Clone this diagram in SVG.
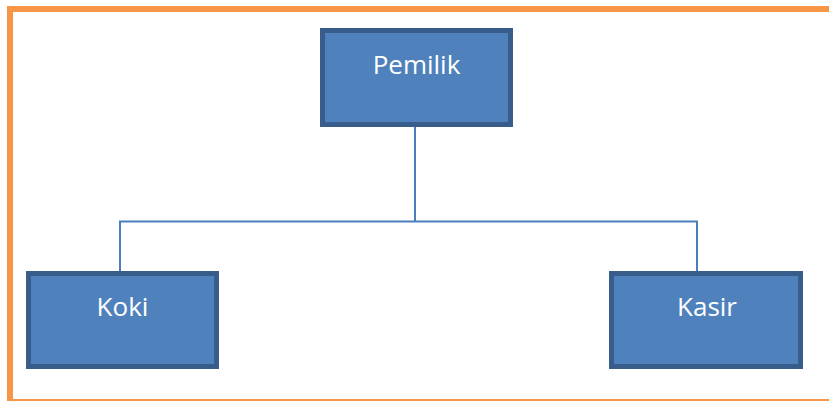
<svg xmlns="http://www.w3.org/2000/svg" width="829" height="401" viewBox="0 0 829 401">
<style>
.box{fill:#4F81BD;stroke:#385D8A;stroke-width:5}
.lbl{font-family:"Open Sans","Liberation Sans",sans-serif;font-size:26px;fill:#FFFFFF;text-anchor:middle}
.conn{fill:none;stroke:#4A7EBB;stroke-width:2}
.frame{fill:#F79646}
</style>
<rect width="829" height="401" fill="#FFFFFF"/>
<g id="frame">
<rect class="frame" x="7" y="6" width="822" height="6"/>
<rect class="frame" x="7" y="6" width="6" height="394"/>
<rect class="frame" x="7" y="399" width="822" height="2"/>
</g>
<g id="connectors">
<path class="conn" d="M415,127 V221.5 M120,271 V221.5 H697 V271"/>
</g>
<g id="pemilik">
<rect class="box" x="322.5" y="30.5" width="188" height="94"/>
<text class="lbl" x="416.5" y="74">Pemilik</text>
</g>
<g id="koki">
<rect class="box" x="28.5" y="273.5" width="188" height="93"/>
<text class="lbl" x="122.5" y="316">Koki</text>
</g>
<g id="kasir">
<rect class="box" x="611.5" y="273.5" width="189" height="93"/>
<text class="lbl" x="707" y="316">Kasir</text>
</g>
</svg>
